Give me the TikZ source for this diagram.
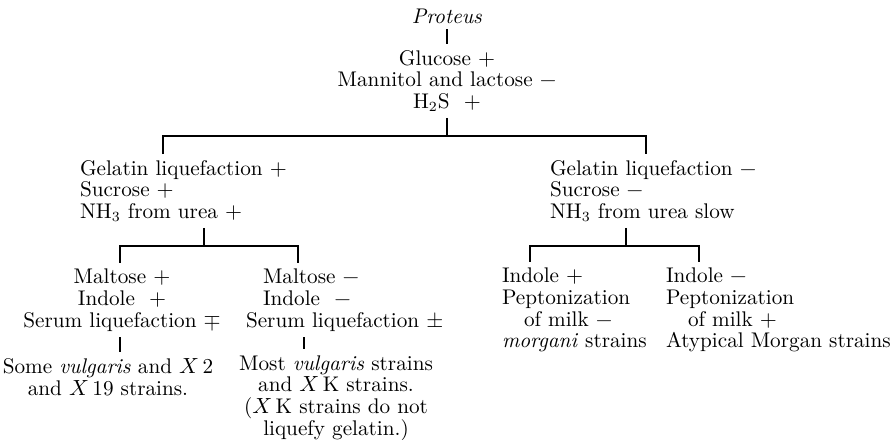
\documentclass[tikz,border=0pt]{standalone}
\usepackage{amsmath,amssymb}
\usepackage{tikz}
\usetikzlibrary{positioning,calc}

\tikzset{
  txt/.style={inner sep=0pt,outer sep=3pt,font=\fontsize{10.6}{10.9}\selectfont},
  br/.style={line width=0.6pt}
}
\newcommand{\mns}{\textminus}

\begin{document}
\begin{tikzpicture}[x=0.5pt,y=-0.5pt]
  \useasboundingbox (0,0) rectangle (894,439);
  % top of the key
  \node[txt] (proteus) at (447,16) {\textit{Proteus}};
  \node[txt,align=center] (top) at (447,81) {Glucose $+$\\Mannitol and lactose \mns\\H$_2$S\ \ $+$};
  % second level
  \node[txt,align=left,anchor=west] (gelp) at (74,191) {Gelatin liquefaction $+$\\Sucrose $+$\\NH$_3$ from urea $+$};
  \node[txt,align=left,anchor=west] (gelm) at (544,191) {Gelatin liquefaction \mns\\Sucrose \mns\\NH$_3$ from urea slow};
  % third level
  \node[txt,align=center] (maltp) at (122,300) {Maltose $+$\\Indole\ \ $+$\\Serum liquefaction $\mp$};
  \node[txt,align=left,anchor=west] (maltm) at (240,300) {\hspace{8.5pt}Maltose \mns\\\hspace{8.5pt}Indole\ \ \mns\\Serum liquefaction $\pm$};
  \node[txt,align=left,anchor=west] (indp) at (496,310) {Indole $+$\\Peptonization\\\hspace{11pt}of milk \mns\\\textit{morgani} strains};
  \node[txt,align=left,anchor=west] (indm) at (660,310) {Indole \mns\\Peptonization\\\hspace{11pt}of milk $+$\\Atypical Morgan strains};
  % strains
  \node[txt,align=center] (somev) at (108,377) {Some \textit{vulgaris} and $X$\,2\\and $X$\,19 strains.};
  \node[txt,align=center] (mostv) at (336,398) {Most \textit{vulgaris} strains\\and $X$\,K strains.\\($X$\,K strains do not\\liquefy gelatin.)};

  \coordinate (b1) at (447,136);
  \coordinate (b1l) at (163,136);
  \coordinate (b1r) at (646,136);
  \coordinate (b2m) at (204,246);
  \coordinate (b2l) at (120,246);
  \coordinate (b2r) at (298,246);
  \coordinate (b3m) at (626,246);
  \coordinate (b3l) at (530,246);
  \coordinate (b3r) at (699,246);
  \coordinate (c4) at (304,246);

  \draw[br] (proteus) -- (top);
  \draw[br] (top.south) -- (b1);
  \draw[br] (b1l |- gelp.north) -- (b1l) -- (b1r) -- (b1r |- gelm.north);
  \draw[br] (b2m |- gelp.south) -- (b2m);
  \draw[br] (b2l |- maltp.north) -- (b2l) -- (b2r) -- (b2r |- maltm.north);
  \draw[br] (b3m |- gelm.south) -- (b3m);
  \draw[br] (b3l |- indp.north) -- (b3l) -- (b3r) -- (b3r |- indm.north);
  \draw[br] (b2l |- maltp.south) -- (b2l |- somev.north);
  \draw[br] (c4 |- maltm.south) -- (c4 |- mostv.north);
\end{tikzpicture}
\end{document}
